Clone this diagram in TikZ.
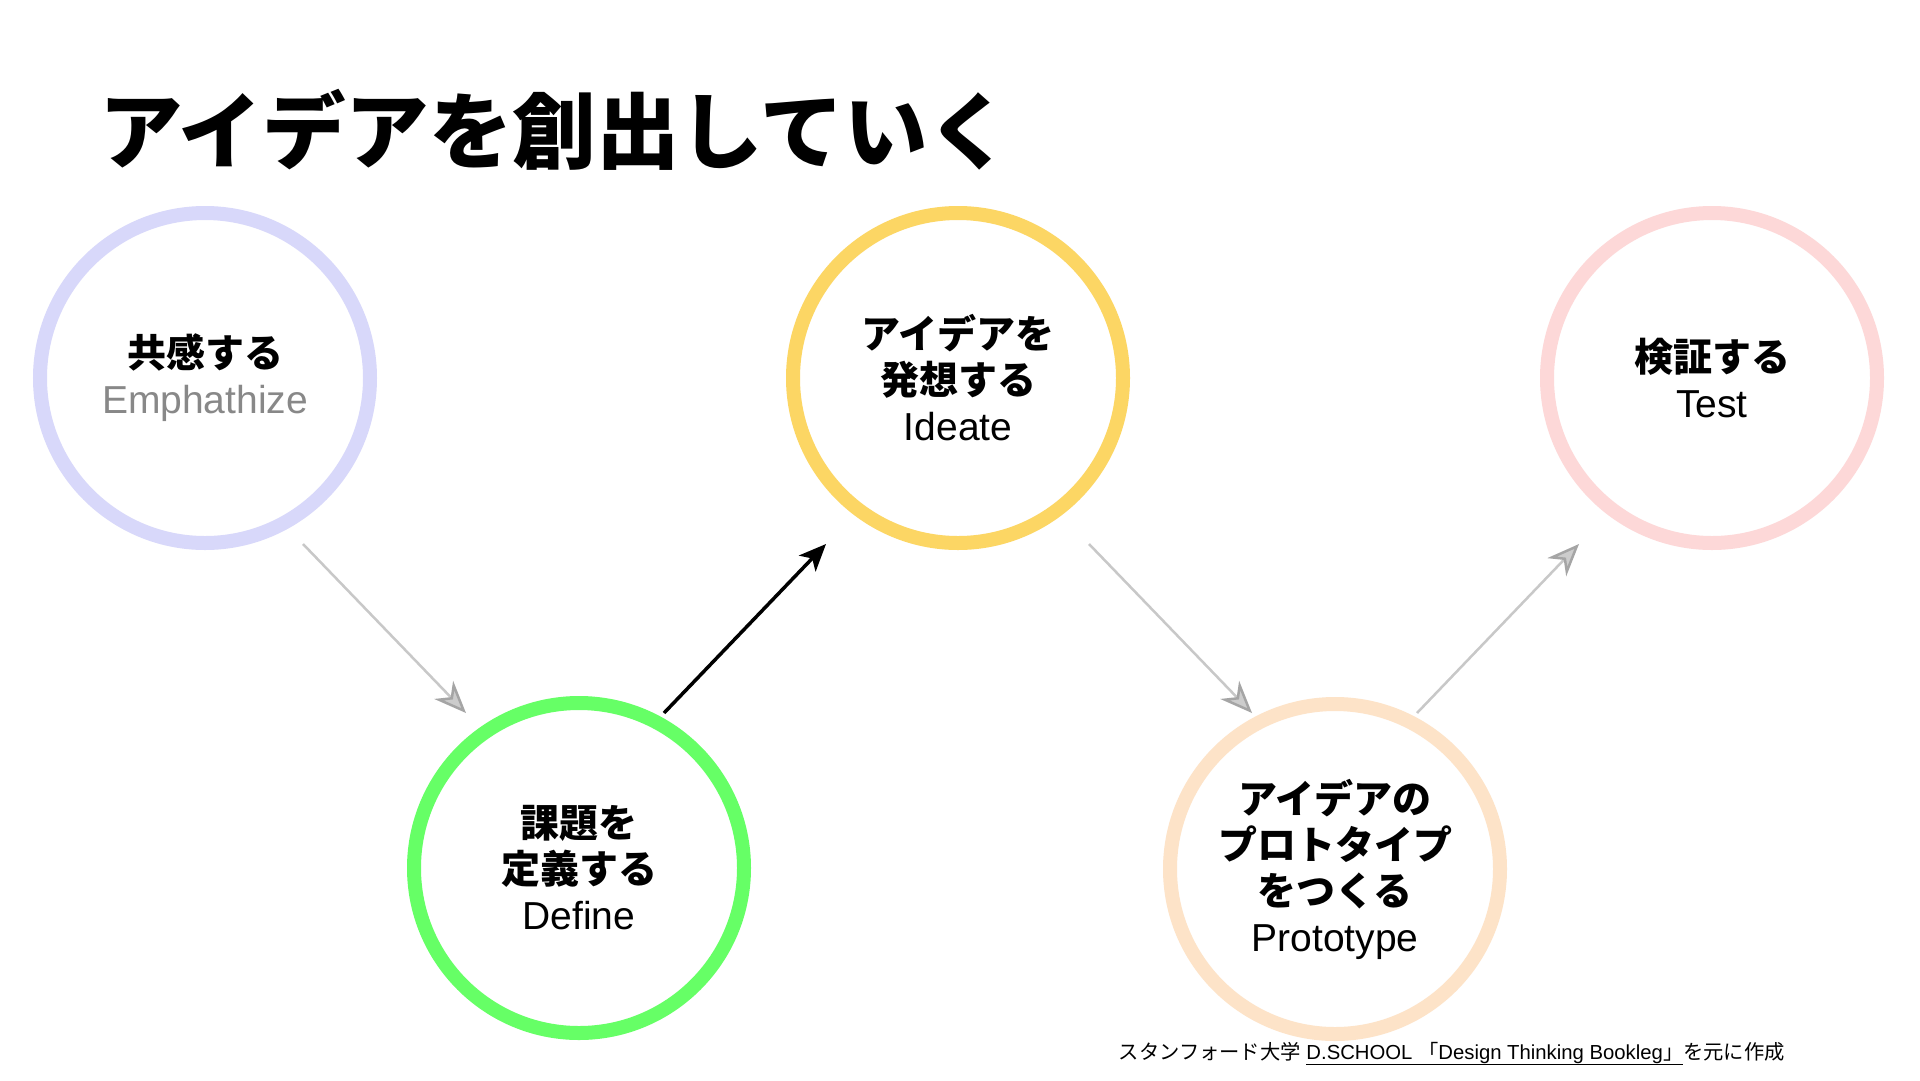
\documentclass[tikz,border=0pt]{standalone}
\usepackage{fontspec}
\setmainfont{Liberation Sans}
\newfontfamily\jp{Noto Sans CJK JP}
\usetikzlibrary{arrows.meta}
\definecolor{cEmph}{RGB}{216,216,250}
\definecolor{cDef}{RGB}{102,255,102}
\definecolor{cIdea}{RGB}{252,214,100}
\definecolor{cProto}{RGB}{253,227,200}
\definecolor{cTest}{RGB}{253,216,216}
\definecolor{cLine}{RGB}{200,200,200}
\definecolor{cTipFill}{RGB}{204,204,204}
\definecolor{cTipEdge}{RGB}{165,165,165}
\definecolor{cSub}{RGB}{136,136,136}
\tikzset{
  ring/.style={circle, line width=14pt, minimum size=330pt, inner sep=0pt,
    align=center, font=\fontsize{39}{46}\selectfont},
  grayarrow/.style={draw=cLine, line width=2.5pt,
    -{Stealth[length=32pt,width=26pt,inset=10pt,color=cTipEdge,fill=cTipFill]}},
  blackarrow/.style={draw=black, line width=3.5pt,
    -{Stealth[length=27pt,width=23pt,inset=7pt]}},
}
\begin{document}
\begin{tikzpicture}[x=1pt,y=-1pt]
\useasboundingbox[fill=white] (0,0) rectangle (1920,1080);
% title
\node[anchor=west, inner sep=0pt, font=\fontsize{83.5}{90}\selectfont\jp\bfseries] (title) at (99,130) {アイデアを創出していく};
% circles
\node[ring, draw=cEmph] (emph) at (205,378) {{\jp\bfseries 共感する}\\{\color{cSub}Emphathize}};
\node[ring, draw=cDef] (def) at (579,868) {{\jp\bfseries 課題を}\\{\jp\bfseries 定義する}\\Define};
\node[ring, draw=cIdea] (idea) at (958,378) {{\jp\bfseries アイデアを}\\{\jp\bfseries 発想する}\\Ideate};
\node[ring, draw=cProto] (proto) at (1335,869) {{\jp\bfseries アイデアの}\\{\jp\bfseries プロトタイプ}\\{\jp\bfseries をつくる}\\Prototype};
\node[ring, draw=cTest] (test) at (1712,378) {{\jp\bfseries 検証する}\\Test};
% arrow end points
\coordinate (a1s) at (303,544);
\coordinate (a1e) at (466,713);
\coordinate (a2s) at (664,713);
\coordinate (a2e) at (826,544);
\coordinate (a3s) at (1089,544);
\coordinate (a3e) at (1252,713);
\coordinate (a4s) at (1417,713);
\coordinate (a4e) at (1579,544);
\draw[grayarrow] (a1s) -- (a1e);
\draw[blackarrow] (a2s) -- (a2e);
\draw[grayarrow] (a3s) -- (a3e);
\draw[grayarrow] (a4s) -- (a4e);
% footnote
\node[anchor=base east, inner sep=0pt, font=\fontsize{20.3}{24}\selectfont] (note) at (1785,1059)
  {{\jp スタンフォード大学} \underline{D.SCHOOL {\jp 「}Design Thinking Bookleg{\jp 」}}{\jp を元に作成}};
\end{tikzpicture}
\end{document}
